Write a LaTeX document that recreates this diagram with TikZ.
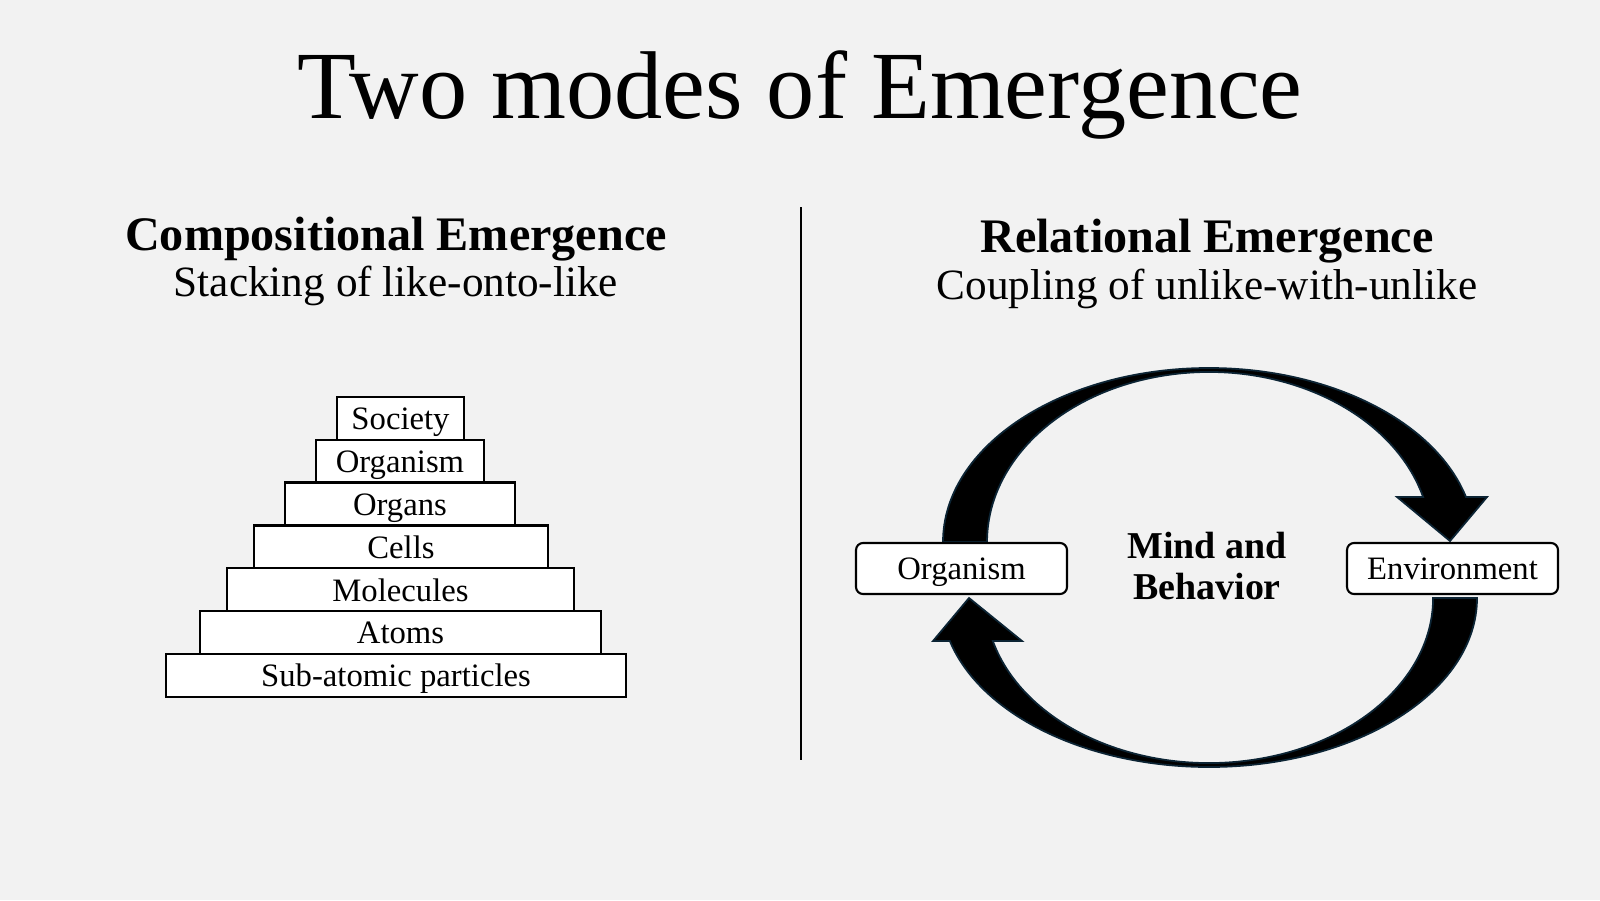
\documentclass[tikz,border=0pt]{standalone}
\usepackage{fontspec}
\setmainfont{Liberation Serif}
\definecolor{slidebg}{HTML}{F2F2F2}
\definecolor{arrowedge}{RGB}{12,36,52}

\begin{document}
\begin{tikzpicture}[
    levelbox/.style={draw, line width=0.65pt, fill=white, minimum height=0.4286cm,
      inner sep=0pt, text height=0.72em, text depth=0.08em,
      font=\fontsize{9.3}{11}\selectfont},
    sidebox/.style={draw, line width=0.6pt, fill=white, rounded corners=2pt,
      minimum width=2.11cm, minimum height=0.51cm, inner sep=0pt,
      text height=0.72em, text depth=0.08em, font=\fontsize{9.3}{11}\selectfont},
    headtext/.style={anchor=base, font=\fontsize{13.7}{16}\selectfont\bfseries},
    subtext/.style={anchor=base, font=\fontsize{12.3}{14}\selectfont},
    bigarrow/.style={fill=black, draw=arrowedge, line width=0.5pt, line join=miter}
  ]
    % Slide: 16 x 9 cm, 1 cm = 100 px of the 1600 x 900 slide
    \fill[slidebg] (0,0) rectangle (16,9);

    % Title
    \node[anchor=base, font=\fontsize{27.4}{32}\selectfont] (title) at (8.0, 7.81)
      {Two modes of Emergence};

    % Divider between the two halves
    \draw[line width=0.7pt] (8.01, 6.93) -- (8.01, 1.40);

    % Left half: headings
    \node[headtext] (comphead) at (3.96, 6.50) {Compositional Emergence};
    \node[subtext] (compsub) at (3.96, 6.04) {Stacking of like-onto-like};

    % Pyramid: row i sits at y = 2.245 + 0.4286 i, widths shrink upwards
    \foreach \i/\cx/\w/\lbl in {0/3.96/4.60/Sub-atomic particles, 1/4.005/4.01/Atoms,
        2/4.005/3.47/Molecules, 3/4.01/2.94/Cells, 4/4.00/2.30/Organs,
        5/4.00/1.68/Organism, 6/4.005/1.27/Society} {
      \node[levelbox, minimum width=\w cm] (lvl\i) at (\cx, 2.245+0.4286*\i) {\lbl};
    }

    % Right half: headings
    \node[headtext] (relhead) at (12.07, 6.47) {Relational Emergence};
    \node[subtext] (relsub) at (12.07, 6.01) {Coupling of unlike-with-unlike};

    % Upper arrow: Organism -> Environment
    % outer ellipse centre (12.09, 3.58), rx 2.66, ry 1.74; inner rx 2.22, ry 1.70
    \filldraw[bigarrow] (9.43, 3.58)
      arc[start angle=180, end angle=15, x radius=2.66, y radius=1.74]
      -- (14.87, 4.03) -- (14.50, 3.59) -- (13.97, 4.03) -- (14.231, 4.03)
      arc[start angle=15.35, end angle=180, x radius=2.22, y radius=1.70]
      -- cycle;

    % Lower arrow: Environment -> Organism
    % outer ellipse centre (12.09, 3.02), rx 2.68, ry 1.69; inner rx 2.24, ry 1.65
    \filldraw[bigarrow] (14.77, 3.02)
      arc[start angle=0, end angle=-165.26, x radius=2.68, y radius=1.69]
      -- (9.33, 2.59) -- (9.69, 3.02) -- (10.22, 2.59) -- (9.928, 2.59)
      arc[start angle=-164.9, end angle=0, x radius=2.24, y radius=1.65]
      -- cycle;

    % The two poles and the centre label
    \node[sidebox] (organism) at (9.615, 3.315) {Organism};
    \node[sidebox] (environment) at (14.525, 3.315) {Environment};
    \node[align=center, font=\fontsize{10.8}{11.4}\selectfont\bfseries] (mind)
      at (12.07, 3.34) {Mind and\\Behavior};

\end{tikzpicture}
\end{document}
